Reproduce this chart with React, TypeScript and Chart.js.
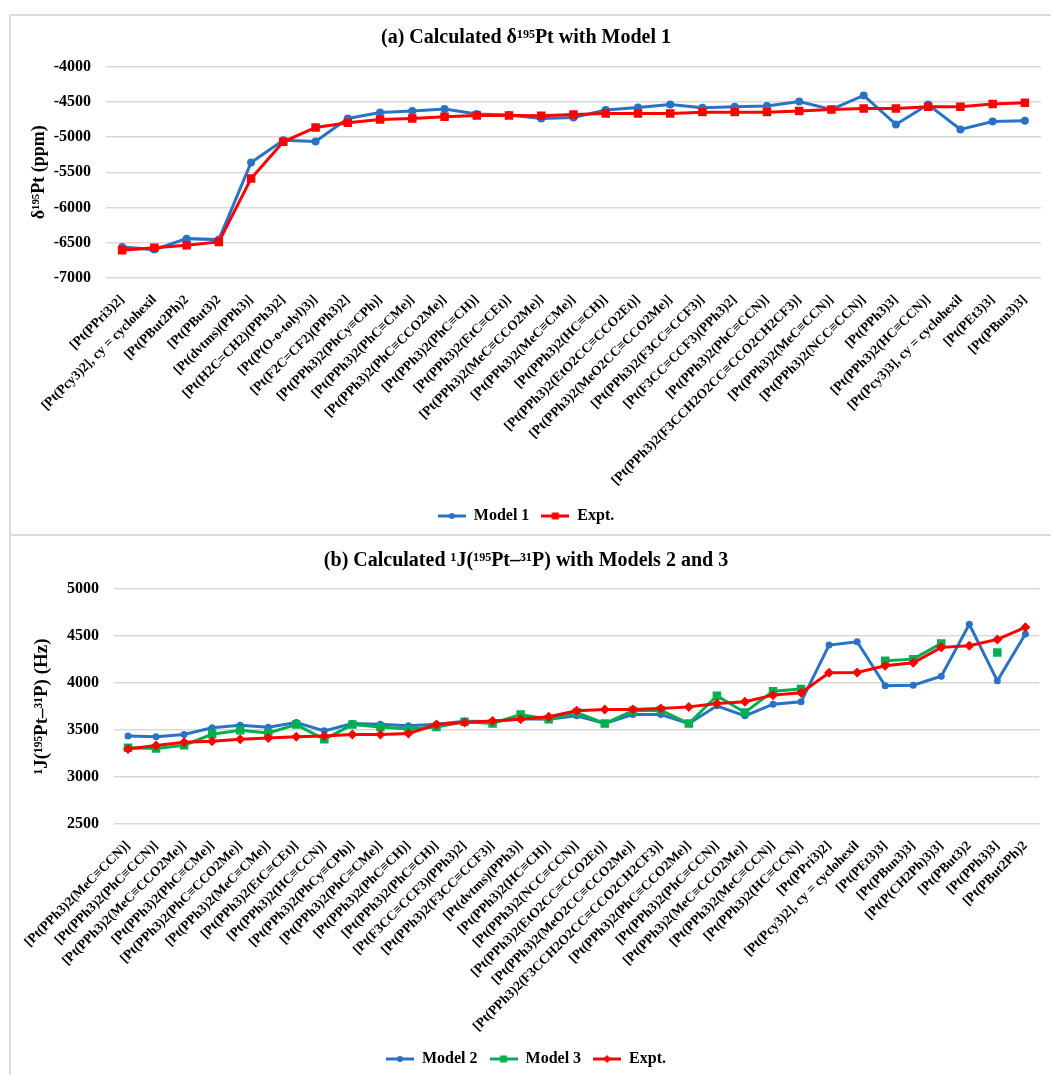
import React, { useEffect, useRef } from "react";
import { Chart, registerables } from "chart.js";

Chart.register(...registerables);

const FONT = "'Liberation Serif', 'Times New Roman', 'DejaVu Serif', serif";

// ---------- Chart (a) data ----------
const titleA = "(a) Calculated δ¹⁹⁵Pt with Model 1";
const yTitleA = "δ¹⁹⁵Pt (ppm)";
const categoriesA = [
  "[Pt(PPri3)2]",
  "[Pt(Pcy3)2], cy = cyclohexil",
  "[Pt(PBut2Ph)2",
  "[Pt(PBut3)2",
  "[Pt(dvtms)(PPh3)]",
  "[Pt(H2C=CH2)(PPh3)2]",
  "[Pt(P(O-o-tolyl)3)]",
  "[Pt(F2C=CF2)(PPh3)2]",
  "[Pt(PPh3)2(PhCy≡CPh)]",
  "[Pt(PPh3)2(PhC≡CMe)]",
  "[Pt(PPh3)2(PhC≡CCO2Me)]",
  "[Pt(PPh3)2(PhC≡CH)]",
  "[Pt(PPh3)2(EtC≡CEt)]",
  "[Pt(PPh3)2(MeC≡CCO2Me)]",
  "[Pt(PPh3)2(MeC≡CMe)]",
  "[Pt(PPh3)2(HC≡CH)]",
  "[Pt(PPh3)2(EtO2CC≡CCO2Et)]",
  "[Pt(PPh3)2(MeO2CC≡CCO2Me)]",
  "[Pt(PPh3)2(F3CC≡CCF3)]",
  "[Pt(F3CC≡CCF3)(PPh3)2]",
  "[Pt(PPh3)2(PhC≡CCN)]",
  "[Pt(PPh3)2(F3CCH2O2CC≡CCO2CH2CF3)]",
  "[Pt(PPh3)2(MeC≡CCN)]",
  "[Pt(PPh3)2(NCC≡CCN)]",
  "[Pt(PPh3)3]",
  "[Pt(PPh3)2(HC≡CCN)]",
  "[Pt(Pcy3)3], cy = cyclohexil",
  "[Pt(PEt3)3]",
  "[Pt(PBun3)3]",
];
const model1 = [
  -6559, -6597, -6441, -6455, -5360, -5043, -5062, -4735, -4649, -4630,
  -4602, -4673, -4685, -4735, -4720, -4616, -4578, -4536, -4583, -4569,
  -4559, -4493, -4607, -4408, -4820, -4536, -4891, -4777, -4768,
];
const exptA = [
  -6607, -6569, -6536, -6488, -5588, -5066, -4863, -4796, -4749, -4735,
  -4711, -4692, -4692, -4697, -4678, -4664, -4664, -4664, -4645, -4645,
  -4645, -4630, -4607, -4592, -4592, -4569, -4569, -4531, -4512,
];
const yTicksA = [-7000, -6500, -6000, -5500, -5000, -4500, -4000];

// ---------- Chart (b) data ----------
const titleB = "(b) Calculated ¹J(¹⁹⁵Pt–³¹P) with Models 2 and 3";
const yTitleB = "¹J(¹⁹⁵Pt–³¹P) (Hz)";
const categoriesB = [
  "[Pt(PPh3)2(MeC≡CCN)]",
  "[Pt(PPh3)2(PhC≡CCN)]",
  "[Pt(PPh3)2(MeC≡CCO2Me)]",
  "[Pt(PPh3)2(PhC≡CMe)]",
  "[Pt(PPh3)2(PhC≡CCO2Me)]",
  "[Pt(PPh3)2(MeC≡CMe)]",
  "[Pt(PPh3)2(EtC≡CEt)]",
  "[Pt(PPh3)2(HC≡CCN)]",
  "[Pt(PPh3)2(PhCy≡CPh)]",
  "[Pt(PPh3)2(PhC≡CMe)]",
  "[Pt(PPh3)2(PhC≡CH)]",
  "[Pt(PPh3)2(PhC≡CH)]",
  "[Pt(F3CC≡CCF3)(PPh3)2]",
  "[Pt(PPh3)2(F3CC≡CCF3)]",
  "[Pt(dvtms)(PPh3)]",
  "[Pt(PPh3)2(HC≡CH)]",
  "[Pt(PPh3)2(NCC≡CCN)]",
  "[Pt(PPh3)2(EtO2CC≡CCO2Et)]",
  "[Pt(PPh3)2(MeO2CC≡CCO2Me)]",
  "[Pt(PPh3)2(F3CCH2O2CC≡CCO2CH2CF3)]",
  "[Pt(PPh3)2(PhC≡CCO2Me)]",
  "[Pt(PPh3)2(PhC≡CCN)]",
  "[Pt(PPh3)2(MeC≡CCO2Me)]",
  "[Pt(PPh3)2(MeC≡CCN)]",
  "[Pt(PPh3)2(HC≡CCN)]",
  "[Pt(PPri3)2]",
  "[Pt(Pcy3)2], cy = cyclohexil",
  "[Pt(PEt3)3]",
  "[Pt(PBun3)3]",
  "[Pt(P(CH2Ph)3)3]",
  "[Pt(PBut3)2",
  "[Pt(PPh3)3]",
  "[Pt(PBut2Ph)2",
];
const model2 = [
  3437, 3427, 3452, 3523, 3551, 3530, 3580, 3491, 3569, 3562, 3544, 3562,
  3594, 3590, 3620, 3615, 3651, 3569, 3665, 3665, 3569, 3757, 3651, 3775,
  3800, 4403, 4439, 3970, 3977, 4073, 4624, 4023, 4521,
];
const model3 = [
  3310, 3303, 3338, 3455, 3498, 3469, 3558, 3402, 3558, 3533, 3512, 3533,
  3587, 3569, 3665, 3615, 3686, 3569, 3704, 3711, 3569, 3864, 3686, 3913,
  3935, null, null, 4237, 4254, 4421, null, 4325, null,
];
const exptB = [
  3299, 3335, 3370, 3381, 3402, 3416, 3427, 3437, 3452, 3452, 3462, 3558,
  3580, 3597, 3615, 3640, 3704, 3718, 3718, 3729, 3746, 3782, 3800, 3871,
  3896, 4109, 4112, 4183, 4215, 4379, 4396, 4464, 4592,
];
const yTicksB = [2500, 3000, 3500, 4000, 4500, 5000];

const BLUE = "#2A72C4";
const RED = "#FF0000";
const GREEN = "#00B050";
const GRID = "#d9d9d9";

function legendIcon(color: string, style: string, r: number) {
  const c = document.createElement("canvas");
  c.width = 28;
  c.height = 14;
  const ctx = c.getContext("2d")!;
  ctx.strokeStyle = color;
  ctx.fillStyle = color;
  ctx.lineWidth = 3;
  ctx.beginPath();
  ctx.moveTo(0, 7);
  ctx.lineTo(28, 7);
  ctx.stroke();
  ctx.beginPath();
  if (style === "circle") {
    ctx.arc(14, 7, r, 0, Math.PI * 2);
  } else if (style === "rect") {
    ctx.rect(14 - r, 7 - r, 2 * r, 2 * r);
  } else {
    ctx.moveTo(14, 7 - r);
    ctx.lineTo(14 + r, 7);
    ctx.lineTo(14, 7 + r);
    ctx.lineTo(14 - r, 7);
    ctx.closePath();
  }
  ctx.fill();
  return c;
}

type Spec = {
  width: number;
  height: number;
  title: string;
  titlePadTop: number;
  titlePadBottom: number;
  yTitle: string;
  yTitleSize: number;
  yTitlePad: number;
  yWidth: number;
  areaBottom: number;
  categories: string[];
  yTicks: number[];
  datasets: any[];
  icons: { color: string; style: string; r: number }[];
};

function LineChart({ spec }: { spec: Spec }) {
  const ref = useRef<HTMLCanvasElement | null>(null);
  useEffect(() => {
    if (!ref.current) return;
    const icons = spec.icons.map((i) => legendIcon(i.color, i.style, i.r));
    const yMin = Math.min(...spec.yTicks);
    const yMax = Math.max(...spec.yTicks);
    const chart = new Chart(ref.current, {
      type: "line",
      data: { labels: spec.categories, datasets: spec.datasets },
      options: {
        responsive: false,
        animation: false,
        layout: { padding: { left: 0, right: 10, top: 0, bottom: 0 } },
        plugins: {
          tooltip: { enabled: false },
          title: {
            display: true,
            text: spec.title,
            color: "#000",
            font: { family: FONT, size: 20, weight: "bold", lineHeight: 1.2 },
            padding: { top: spec.titlePadTop, bottom: spec.titlePadBottom },
          },
          legend: {
            position: "bottom",
            labels: {
              usePointStyle: true,
              pointStyleWidth: 28,
              padding: 12,
              color: "#000",
              font: { family: FONT, size: 16, weight: "bold" },
              generateLabels: (ch: any) =>
                ch.data.datasets.map((ds: any, i: number) => ({
                  text: ds.label,
                  pointStyle: icons[i],
                  fillStyle: ds.borderColor,
                  strokeStyle: ds.borderColor,
                  lineWidth: 0,
                  hidden: false,
                  datasetIndex: i,
                  fontColor: "#000",
                  rotation: 0,
                })),
            },
          },
        },
        scales: {
          x: {
            type: "category",
            offset: true,
            grid: { display: false, drawTicks: false },
            border: { display: false },
            afterFit: (scale: any) => {
              const lg = scale.chart.legend;
              const lh = lg ? lg.height : 36;
              scale.height = spec.height - lh - spec.areaBottom;
            },
            ticks: {
              autoSkip: false,
              minRotation: 45,
              maxRotation: 45,
              padding: 14,
              color: "#000",
              font: { family: FONT, size: 13.5, weight: "bold" },
            },
          },
          y: {
            min: yMin,
            max: yMax,
            afterFit: (scale: any) => {
              scale.width = spec.yWidth;
            },
            afterBuildTicks: (scale: any) => {
              scale.ticks = spec.yTicks.map((v) => ({ value: v }));
            },
            grid: { color: GRID, lineWidth: 1.5, drawTicks: false },
            border: { display: false },
            ticks: {
              padding: 15,
              color: "#000",
              font: { family: FONT, size: 16, weight: "bold" },
              callback: (v: any) => String(v),
            },
            title: {
              display: true,
              text: spec.yTitle,
              color: "#000",
              font: {
                family: FONT,
                size: spec.yTitleSize,
                weight: "bold",
                lineHeight: 1.2,
              },
              padding: { top: spec.yTitlePad, bottom: 0 },
            },
          },
        },
      } as any,
    });
    return () => chart.destroy();
  }, [spec]);
  return (
    <canvas
      ref={ref}
      width={spec.width}
      height={spec.height}
      style={{ display: "block", width: spec.width, height: spec.height }}
    />
  );
}

const specA: Spec = {
  width: 1040,
  height: 518,
  title: titleA,
  titlePadTop: 10,
  titlePadBottom: 16.7,
  yTitle: yTitleA,
  yTitleSize: 18,
  yTitlePad: 18,
  yWidth: 95,
  areaBottom: 262,
  categories: categoriesA,
  yTicks: yTicksA,
  datasets: [
    {
      label: "Model 1",
      data: model1,
      borderColor: BLUE,
      backgroundColor: BLUE,
      borderWidth: 3,
      pointStyle: "circle",
      pointRadius: 4,
      pointBorderWidth: 0,
      tension: 0,
      order: 1,
    },
    {
      label: "Expt.",
      data: exptA,
      borderColor: RED,
      backgroundColor: RED,
      borderWidth: 3,
      pointStyle: "rect",
      pointRadius: 6,
      pointBorderWidth: 0,
      tension: 0,
      order: 0,
    },
  ],
  icons: [
    { color: BLUE, style: "circle", r: 3 },
    { color: RED, style: "rect", r: 3.5 },
  ],
};

const specB: Spec = {
  width: 1040,
  height: 541,
  title: titleB,
  titlePadTop: 13,
  titlePadBottom: 16,
  yTitle: yTitleB,
  yTitleSize: 19,
  yTitlePad: 20,
  yWidth: 103,
  areaBottom: 288,
  categories: categoriesB,
  yTicks: yTicksB,
  datasets: [
    {
      label: "Model 2",
      data: model2,
      borderColor: BLUE,
      backgroundColor: BLUE,
      borderWidth: 3,
      pointStyle: "circle",
      pointRadius: 3.5,
      pointBorderWidth: 0,
      tension: 0,
      order: 2,
    },
    {
      label: "Model 3",
      data: model3,
      borderColor: GREEN,
      backgroundColor: GREEN,
      borderWidth: 3,
      pointStyle: "rect",
      pointRadius: 6,
      pointBorderWidth: 0,
      spanGaps: false,
      tension: 0,
      order: 1,
    },
    {
      label: "Expt.",
      data: exptB,
      borderColor: RED,
      backgroundColor: RED,
      borderWidth: 3,
      pointStyle: "rectRot",
      pointRadius: 5,
      pointBorderWidth: 0,
      tension: 0,
      order: 0,
    },
  ],
  icons: [
    { color: BLUE, style: "circle", r: 3 },
    { color: GREEN, style: "rect", r: 3.5 },
    { color: RED, style: "diamond", r: 4 },
  ],
};

export default function App() {
  useEffect(() => {
    document.body.style.margin = "0";
    document.body.style.overflow = "hidden";
  }, []);
  return (
    <div
      style={{
        position: "relative",
        width: 1051,
        height: 1075,
        overflow: "hidden",
        background: "#fff",
      }}
    >
      <div
        style={{
          position: "absolute",
          left: 9,
          top: 14,
          width: 1100,
          height: 518,
          border: "2px solid #dcdcdc",
        }}
      />
      <div
        style={{
          position: "absolute",
          left: 9,
          top: 534,
          width: 1100,
          height: 600,
          border: "2px solid #dcdcdc",
        }}
      />
      <div style={{ position: "absolute", left: 11, top: 16 }}>
        <LineChart spec={specA} />
      </div>
      <div style={{ position: "absolute", left: 11, top: 536 }}>
        <LineChart spec={specB} />
      </div>
    </div>
  );
}
